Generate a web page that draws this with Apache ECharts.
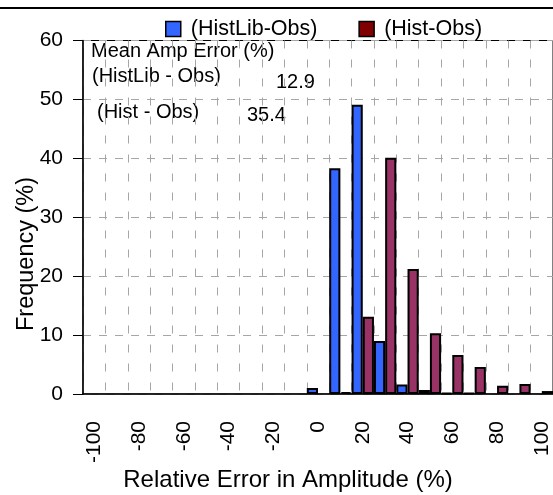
<!DOCTYPE html>
<html>
<head>
<meta charset="utf-8">
<script src="https://cdn.jsdelivr.net/npm/echarts@6/dist/echarts.min.js"></script>
<style>html,body{margin:0;padding:0;background:#fff;}#c{width:553px;height:495px;}</style>
</head>
<body>
<div id="c"></div>
<script>
var categories = ['-100','-90','-80','-70','-60','-50','-40','-30','-20','-10','0','10','20','30','40','50','60','70','80','90','100'];
var histLibObs = [null,null,null,null,null,null,null,null,null,null,1.0,38.3,49.1,9.0,1.6,0.7,0.2,0.2,null,null,null];
var histObs = [null,null,null,null,null,null,null,null,null,null,null,0.3,13.1,40.1,21.2,10.3,6.6,4.6,1.4,1.7,0.5];
var yTicks = [0,10,20,30,40,50,60];
var meanLabels = ['Mean Amp Error (%)','(HistLib - Obs)','(Hist - Obs)'];
var meanValues = ['12.9','35.4'];

var FONT = "'Liberation Sans', Arial, sans-serif";
var chart = echarts.init(document.getElementById('c'), null, {renderer:'canvas'});
chart.setOption({
  animation:false,
  backgroundColor:'#fff',
  grid:{left:83, top:40.5, width:472.5, bottom:101, show:true, borderColor:'#000', borderWidth:1, backgroundColor:'transparent'},
  legend:{
    left:165, top:18, padding:0, itemWidth:15, itemHeight:15, itemGap:41, icon:'rect',
    textStyle:{fontFamily:FONT, fontSize:21.5, color:'#000', padding:[0,0,0,5]},
    data:[
      {name:'(HistLib-Obs)', itemStyle:{color:'#3366ff', borderColor:'#000', borderWidth:1.5}},
      {name:'(Hist-Obs)', itemStyle:{color:'#800000', borderColor:'#000', borderWidth:1.5}}
    ]
  },
  xAxis:{
    type:'category', data:categories, boundaryGap:true,
    axisLine:{lineStyle:{color:'#000', width:1.5}},
    axisTick:{show:false},
    axisLabel:{interval:1, rotate:90, margin:27, fontFamily:FONT, fontSize:21, color:'#000'},
    splitLine:{show:true, interval:0, lineStyle:{color:'#a6a6a6', type:[8,11], width:1}}
  },
  yAxis:{
    type:'value', min:yTicks[0], max:yTicks[yTicks.length-1], interval:10,
    axisLine:{show:true, lineStyle:{color:'#000', width:1.5}},
    axisTick:{show:true, length:10, lineStyle:{color:'#000', width:1}},
    axisLabel:{margin:20, fontFamily:FONT, fontSize:21, color:'#000'},
    splitLine:{show:true, lineStyle:{color:'#a6a6a6', type:[8,8], width:1}}
  },
  series:[
    {name:'(HistLib-Obs)', type:'bar', data:histLibObs, barGap:'0%', barCategoryGap:'0%',
     itemStyle:{color:'#3366ff', borderColor:'#000', borderWidth:2}},
    {name:'(Hist-Obs)', type:'bar', data:histObs, barGap:'0%', barCategoryGap:'0%',
     itemStyle:{color:'#993366', borderColor:'#000', borderWidth:2}}
  ],
  graphic:[
    {type:'line', shape:{x1:0,y1:8,x2:553,y2:8}, style:{stroke:'#000', lineWidth:2}},
    {type:'text', x:27, y:254, rotation:Math.PI/2, style:{text:'Frequency (%)', font:'23.5px '+FONT, fill:'#000', textAlign:'center', textVerticalAlign:'middle'}},
    {type:'text', x:288, y:480, style:{text:'Relative Error in Amplitude (%)', font:'24px '+FONT, fill:'#000', textAlign:'center', textVerticalAlign:'middle'}},
    {type:'text', x:91, y:51, style:{text:meanLabels[0], font:'20px '+FONT, fill:'#000', textAlign:'left', textVerticalAlign:'middle'}},
    {type:'text', x:92, y:76.5, style:{text:meanLabels[1], font:'20px '+FONT, fill:'#000', textAlign:'left', textVerticalAlign:'middle'}},
    {type:'text', x:276, y:82.5, style:{text:meanValues[0], font:'20px '+FONT, fill:'#000', textAlign:'left', textVerticalAlign:'middle'}},
    {type:'text', x:97, y:112, style:{text:meanLabels[2], font:'20px '+FONT, fill:'#000', textAlign:'left', textVerticalAlign:'middle'}},
    {type:'text', x:247, y:115, style:{text:meanValues[1], font:'20px '+FONT, fill:'#000', textAlign:'left', textVerticalAlign:'middle'}}
  ]
});
</script>
</body>
</html>
